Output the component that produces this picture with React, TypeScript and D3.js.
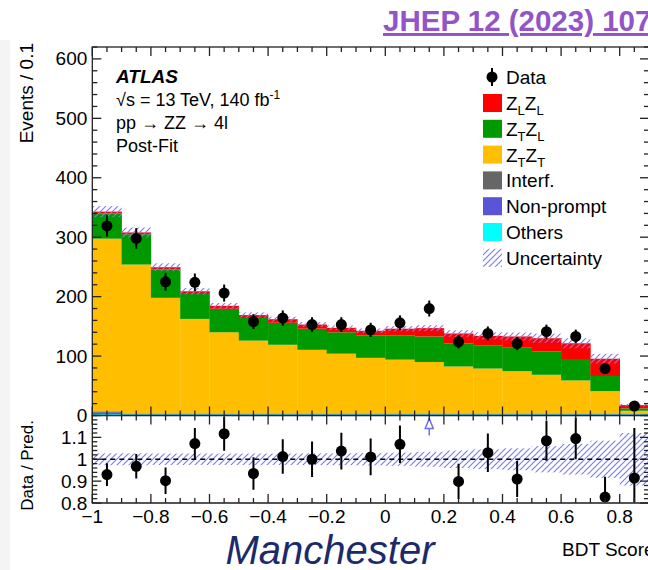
import React, { useRef, useEffect } from "react";
import * as d3 from "d3";

// BDT score bins (width 0.1)
const binLow = [-1, -0.9, -0.8, -0.7, -0.6, -0.5, -0.4, -0.3, -0.2, -0.1, 0, 0.1, 0.2, 0.3, 0.4, 0.5, 0.6, 0.7, 0.8];
const binWidth = 0.1;

// observed events
const dataCounts = [319, 298, 225, 224, 206, 158, 164, 153, 153, 144, 156, 180, 124, 138, 121, 141, 133, 79, 16];

// post-fit predictions, stacked from bottom (others) to top (ZLZL)
const others = [2.5, 2, 2, 2, 2, 2, 2, 2, 2, 2, 2, 2, 2, 2, 2, 2, 2, 2, 2];
const nonPrompt = [3, 1, 1, 1, 1, 1, 1, 1, 1, 1, 1, 1, 1, 1, 1, 1, 1, 1, 1];
const interf = [1.5, 0.5, 0.5, 0.5, 0.5, 0.5, 0.5, 0.5, 0.5, 0.5, 0.5, 0.5, 0.5, 0.5, 0.5, 0.5, 0.5, 0.5, 0.5];
const ztzt = [290.5, 250.5, 194.5, 159, 136.5, 122.5, 115.5, 107, 100.5, 93.5, 90.5, 86.5, 79, 75.5, 71, 65, 55.5, 37.5, 4.5];
const ztzl = [42.5, 51, 48, 42, 39.5, 38, 37, 35.5, 36, 37.5, 41, 43, 38.5, 38.5, 39.5, 39, 34.5, 25.5, 4];
const zlzl = [3, 3, 3.5, 4.5, 5, 5, 6, 7, 7.5, 8, 11, 14, 17, 16.5, 19, 22.5, 28, 29, 5.5];

// relative total uncertainty on the prediction
const relUnc = [0.027, 0.027, 0.026, 0.026, 0.026, 0.026, 0.026, 0.027, 0.027, 0.028, 0.03, 0.034, 0.04, 0.045, 0.05, 0.06, 0.07, 0.085, 0.12];

const xTicks = [-1, -0.8, -0.6, -0.4, -0.2, 0, 0.2, 0.4, 0.6, 0.8];
const yTicks = [0, 100, 200, 300, 400, 500, 600];
const ratioTicks = [0.8, 0.9, 1, 1.1];

const stackKeys = ["others", "nonPrompt", "interf", "ztzt", "ztzl", "zlzl"];
const stackColors = ["#00ffff", "#5a55d8", "#666666", "#ffbf00", "#009900", "#ff0000"];
const stackValues = [others, nonPrompt, interf, ztzt, ztzl, zlzl];

const FONT = "Liberation Sans, Arial, Helvetica, sans-serif";

const App = () => {
  const ref = useRef<HTMLDivElement>(null);

  useEffect(() => {
    const width = 648;
    const height = 570;
    const left = 92.3;
    const right = 649;
    const mainTop = 47;
    const mainBottom = 415.5;
    const ratioBottom = 503;

    const x = d3.scaleLinear().domain([-1, 0.9]).range([left, right]);
    const y = d3.scaleLinear().domain([0, 620]).range([mainBottom, mainTop]);
    const yr = d3.scaleLinear().domain([0.8, 1.2]).range([ratioBottom, mainBottom]);

    const rows = binLow.map((lo, i) => {
      const r: any = { lo, hi: lo + binWidth, data: dataCounts[i] };
      stackKeys.forEach((k, j) => (r[k] = stackValues[j][i]));
      return r;
    });
    const series = d3.stack().keys(stackKeys)(rows);
    const totals = rows.map((r) => d3.sum(stackKeys, (k) => r[k]));

    d3.select(ref.current).selectAll("*").remove();

    const svg = d3
      .select(ref.current)
      .append("svg")
      .attr("width", width)
      .attr("height", height)
      .style("position", "absolute")
      .style("left", "0px")
      .style("top", "0px")
      .style("background", "#fff")
      .style("font-family", FONT);

    const defs = svg.append("defs");
    const pat = defs
      .append("pattern")
      .attr("id", "hatch")
      .attr("patternUnits", "userSpaceOnUse")
      .attr("width", 6)
      .attr("height", 6);
    pat
      .append("path")
      .attr("d", "M0,6 L6,0 M-1,1 L1,-1 M5,7 L7,5")
      .attr("stroke", "#7a7aff")
      .attr("stroke-width", 1.2);

    defs
      .append("clipPath")
      .attr("id", "ratioClip")
      .append("rect")
      .attr("x", left)
      .attr("y", mainBottom)
      .attr("width", right - left)
      .attr("height", ratioBottom - mainBottom);

    // slide leftovers: grey strip, journal reference, watermark
    svg.append("rect").attr("x", 0).attr("y", 40).attr("width", 10).attr("height", 530).attr("fill", "#f4f4f4");

    svg
      .append("text")
      .attr("x", 383)
      .attr("y", 31)
      .attr("font-size", 29.5)
      .attr("font-weight", "bold")
      .attr("fill", "#9254c8")
      .attr("text-decoration", "underline")
      .text("JHEP 12 (2023) 107");

    svg
      .append("text")
      .attr("x", 330)
      .attr("y", 564)
      .attr("text-anchor", "middle")
      .attr("font-size", 40)
      .attr("font-style", "italic")
      .attr("fill", "#1c2a6c")
      .text("Manchester");

    // stacked histogram
    const g = svg.append("g");
    series.forEach((s, j) => {
      g.selectAll(null)
        .data(s)
        .join("rect")
        .attr("x", (d: any) => x(d.data.lo))
        .attr("width", (d: any) => x(d.data.hi) - x(d.data.lo) + 0.3)
        .attr("y", (d) => y(d[1]))
        .attr("height", (d) => Math.max(0, y(d[0]) - y(d[1])))
        .attr("fill", stackColors[j]);
    });

    // uncertainty band on the total
    g.selectAll(null)
      .data(rows)
      .join("rect")
      .attr("x", (d) => x(d.lo))
      .attr("width", (d) => x(d.hi) - x(d.lo))
      .attr("y", (d, i) => y(totals[i] * (1 + relUnc[i])))
      .attr("height", (d, i) => y(totals[i] * (1 - relUnc[i])) - y(totals[i] * (1 + relUnc[i])))
      .attr("fill", "url(#hatch)");

    // data points
    const pts = svg.append("g");
    rows.forEach((d) => {
      const cx = x(d.lo + binWidth / 2);
      const err = Math.sqrt(d.data);
      pts.append("line")
        .attr("x1", cx).attr("x2", cx)
        .attr("y1", y(d.data + err)).attr("y2", y(d.data - err))
        .attr("stroke", "#000").attr("stroke-width", 2);
      pts.append("circle").attr("cx", cx).attr("cy", y(d.data)).attr("r", 5.5).attr("fill", "#000");
    });

    // ratio panel
    const rg = svg.append("g").attr("clip-path", "url(#ratioClip)");
    rg.selectAll(null)
      .data(rows)
      .join("rect")
      .attr("x", (d) => x(d.lo))
      .attr("width", (d) => x(d.hi) - x(d.lo) + 0.3)
      .attr("y", (d, i) => yr(1 + relUnc[i]))
      .attr("height", (d, i) => yr(1 - relUnc[i]) - yr(1 + relUnc[i]))
      .attr("fill", "url(#hatch)");
    rg.append("line")
      .attr("x1", left).attr("x2", right)
      .attr("y1", yr(1)).attr("y2", yr(1))
      .attr("stroke", "#000").attr("stroke-width", 1.5).attr("stroke-dasharray", "5,4");

    rows.forEach((d, i) => {
      const cx = x(d.lo + binWidth / 2);
      const ratio = d.data / totals[i];
      const err = Math.sqrt(d.data) / totals[i];
      if (ratio > 1.2) {
        // out-of-range marker
        const ty = mainBottom + 3;
        svg.append("path")
          .attr("d", `M${cx},${ty} L${cx - 4},${ty + 10} L${cx + 4},${ty + 10} Z`)
          .attr("fill", "none").attr("stroke", "#6f6fee").attr("stroke-width", 1.5);
        svg.append("line")
          .attr("x1", cx).attr("x2", cx).attr("y1", ty + 10).attr("y2", ty + 17)
          .attr("stroke", "#6f6fee").attr("stroke-width", 1.5);
        return;
      }
      rg.append("line")
        .attr("x1", cx).attr("x2", cx)
        .attr("y1", yr(ratio + err)).attr("y2", yr(ratio - err))
        .attr("stroke", "#000").attr("stroke-width", 2);
      rg.append("circle").attr("cx", cx).attr("cy", yr(ratio)).attr("r", 5.5).attr("fill", "#000");
    });

    // frames and ticks
    const axes = svg.append("g").attr("stroke", "#222").attr("stroke-width", 1.3).attr("fill", "none");
    axes.append("rect").attr("x", left).attr("y", mainTop).attr("width", right - left).attr("height", mainBottom - mainTop);
    axes.append("rect").attr("x", left).attr("y", mainBottom).attr("width", right - left).attr("height", ratioBottom - mainBottom);
    axes.append("line").attr("x1", left).attr("x2", right).attr("y1", ratioBottom).attr("y2", ratioBottom)
      .attr("stroke", "#555").attr("stroke-width", 2);

    const xMinor = d3.range(-1, 0.9001, 0.05);
    const isMajorX = (v: number) => xTicks.some((t) => Math.abs(t - v) < 1e-6);
    const hTicks = (y0: number, dir: number) => {
      xMinor.forEach((v) => {
        const len = isMajorX(v) ? 9 : 5;
        axes.append("line").attr("x1", x(v)).attr("x2", x(v)).attr("y1", y0).attr("y2", y0 + dir * len);
      });
    };
    hTicks(mainTop, 1);
    hTicks(mainBottom, -1);
    hTicks(mainBottom, 1);
    hTicks(ratioBottom, -1);

    const yMinor = d3.range(0, 620.01, 20);
    yMinor.forEach((v) => {
      const len = v % 100 === 0 ? 9 : 5;
      axes.append("line").attr("x1", left).attr("x2", left + len).attr("y1", y(v)).attr("y2", y(v));
      axes.append("line").attr("x1", right).attr("x2", right - len).attr("y1", y(v)).attr("y2", y(v));
    });
    const rMinor = d3.range(0.8, 1.2001, 0.02);
    rMinor.forEach((v) => {
      const len = ratioTicks.some((t) => Math.abs(t - v) < 1e-6) ? 9 : 5;
      axes.append("line").attr("x1", left).attr("x2", left + len).attr("y1", yr(v)).attr("y2", yr(v));
      axes.append("line").attr("x1", right).attr("x2", right - len).attr("y1", yr(v)).attr("y2", yr(v));
    });

    // tick labels
    const fmt = d3.format("");
    svg.append("g")
      .selectAll("text")
      .data(yTicks)
      .join("text")
      .attr("x", left - 5)
      .attr("y", (d) => y(d) + 6.5)
      .attr("text-anchor", "end")
      .attr("font-size", 19)
      .text((d) => fmt(d));
    svg.append("g")
      .selectAll("text")
      .data(ratioTicks)
      .join("text")
      .attr("x", left - 5)
      .attr("y", (d) => yr(d) + 6.5)
      .attr("text-anchor", "end")
      .attr("font-size", 19)
      .text((d) => fmt(d));
    svg.append("g")
      .selectAll("text")
      .data(xTicks)
      .join("text")
      .attr("x", (d) => x(d))
      .attr("y", 523)
      .attr("text-anchor", "middle")
      .attr("font-size", 19)
      .text((d) => fmt(d));

    // axis titles
    svg.append("text")
      .attr("transform", "translate(33,43) rotate(-90)")
      .attr("text-anchor", "end")
      .attr("font-size", 19)
      .text("Events / 0.1");
    svg.append("text")
      .attr("transform", "translate(33,420) rotate(-90)")
      .attr("text-anchor", "end")
      .attr("font-size", 17)
      .text("Data / Pred.");
    svg.append("text").attr("x", 562).attr("y", 556).attr("font-size", 19).text("BDT Score");

    // ATLAS label
    svg.append("text")
      .attr("x", 116).attr("y", 83)
      .attr("font-size", 19).attr("font-weight", "bold").attr("font-style", "italic")
      .text("ATLAS");
    const l2 = svg.append("text").attr("x", 116).attr("y", 106).attr("font-size", 18);
    l2.append("tspan").text("\u221As = 13 TeV, 140 fb");
    l2.append("tspan").attr("font-size", 12).attr("dy", -7).text("-1");
    svg.append("text").attr("x", 116).attr("y", 129).attr("font-size", 18).text("pp \u2192 ZZ \u2192 4l");
    svg.append("text").attr("x", 116).attr("y", 152).attr("font-size", 18).text("Post-Fit");

    // legend
    const leg = svg.append("g").attr("font-size", 19);
    leg.append("line").attr("x1", 492).attr("x2", 492).attr("y1", 68).attr("y2", 86).attr("stroke", "#000").attr("stroke-width", 2);
    leg.append("circle").attr("cx", 492).attr("cy", 77).attr("r", 5.5).attr("fill", "#000");
    leg.append("text").attr("x", 506).attr("y", 84).text("Data");

    const entries = [
      { color: "#ff0000", label: ["Z", "L", "Z", "L"] },
      { color: "#009900", label: ["Z", "T", "Z", "L"] },
      { color: "#ffbf00", label: ["Z", "T", "Z", "T"] },
      { color: "#666666", label: ["Interf."] },
      { color: "#5a55d8", label: ["Non-prompt"] },
      { color: "#00ffff", label: ["Others"] },
      { color: "url(#hatch)", label: ["Uncertainty"] },
    ];
    entries.forEach((e, i) => {
      const cy = 103 + i * 25.8;
      leg.append("rect").attr("x", 483).attr("y", cy - 9).attr("width", 19).attr("height", 18).attr("fill", e.color);
      const t = leg.append("text").attr("x", 506).attr("y", cy + 7);
      if (e.label.length === 4) {
        t.append("tspan").text(e.label[0]);
        t.append("tspan").attr("font-size", 13).attr("dy", 5).text(e.label[1]);
        t.append("tspan").attr("dy", -5).text(e.label[2]);
        t.append("tspan").attr("font-size", 13).attr("dy", 5).text(e.label[3]);
      } else {
        t.text(e.label[0]);
      }
    });
  }, []);

  return <div ref={ref}></div>;
};

export default App;
